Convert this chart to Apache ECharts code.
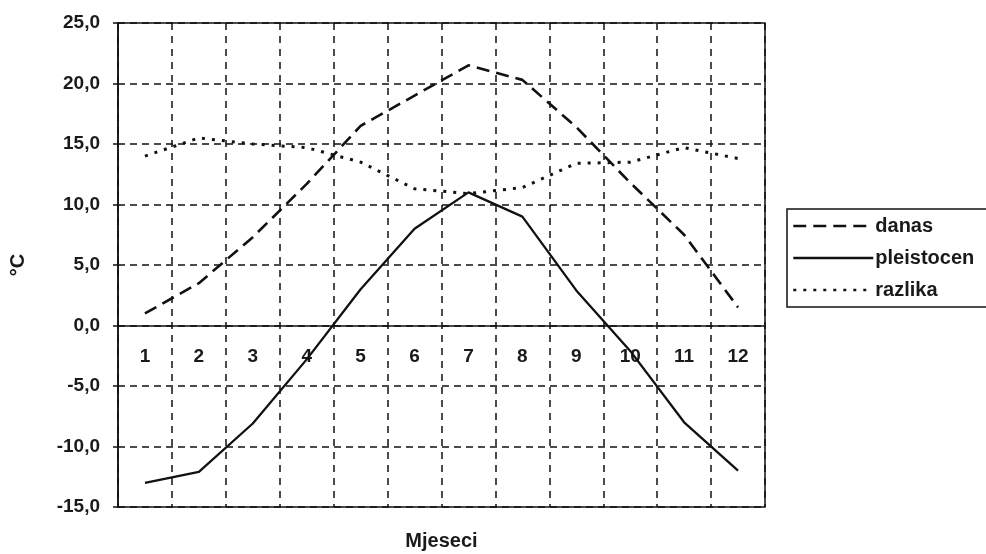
<!DOCTYPE html>
<html>
<head>
<meta charset="utf-8">
<script src="https://cdn.jsdelivr.net/npm/echarts@6/dist/echarts.min.js"></script>
<style>html,body{margin:0;padding:0;background:#fff}#c{width:986px;height:554px}</style>
</head>
<body>
<div id="c"></div>
<script>
var months = ['1','2','3','4','5','6','7','8','9','10','11','12'];
var danas = [1.0, 3.5, 7.3, 11.7, 16.5, 19.0, 21.5, 20.3, 16.4, 11.8, 7.5, 1.5];
var pleistocen = [-13.0, -12.1, -8.1, -2.8, 3.0, 8.0, 11.0, 9.0, 2.9, -2.1, -8.0, -12.0];
var razlika = [14.0, 15.5, 15.0, 14.7, 13.5, 11.3, 10.9, 11.4, 13.4, 13.5, 14.7, 13.8];
var seriesNames = ['danas', 'pleistocen', 'razlika'];
var yTitle = '°C';
var xTitle = 'Mjeseci';

var FONT = '"Liberation Sans", Arial, sans-serif';
var TOP = 23, BOTTOM = 47, H = 554;
var Y_MIN = -15, Y_MAX = 25;
// place the category axis on the zero line
var plotH = H - TOP - BOTTOM;
var zeroOffset = -plotH * (0 - Y_MIN) / (Y_MAX - Y_MIN);

var chart = echarts.init(document.getElementById('c'));
chart.setOption({
  backgroundColor: '#fff',
  animation: false,
  textStyle: {fontFamily: FONT, color: '#111'},
  grid: {left: 118, right: 221, top: TOP, bottom: BOTTOM, show: true, borderColor: '#111', borderWidth: 1.5,
         backgroundColor: 'transparent', containLabel: false, outerBoundsMode: 'none'},
  legend: {
    orient: 'vertical', left: 787, top: 209,
    padding: [7, 40, 7, 5],
    borderColor: '#111', borderWidth: 1.5, backgroundColor: '#fff',
    itemWidth: 80, itemHeight: 12, itemGap: 12,
    itemStyle: {opacity: 0},
    lineStyle: {width: 2.6},
    textStyle: {fontFamily: FONT, fontSize: 20, fontWeight: 'bold', color: '#1a1a1a', lineHeight: 20, padding: [0,0,0,-3]},
    data: seriesNames
  },
  xAxis: {
    type: 'category', data: months, boundaryGap: true,
    offset: zeroOffset,
    name: xTitle, nameLocation: 'middle', nameGap: 206,
    nameTextStyle: {fontSize: 20, fontWeight: 'bold', color: '#1a1a1a', fontFamily: FONT},
    axisLine: {onZero: false, lineStyle: {color: '#111', width: 1.5}},
    axisTick: {show: false},
    axisLabel: {fontSize: 19, fontWeight: 'bold', color: '#1a1a1a', margin: 22, fontFamily: FONT},
    splitLine: {show: true, interval: 0, lineStyle: {color: '#111', width: 1.5, type: [7, 6]}}
  },
  yAxis: {
    type: 'value', min: Y_MIN, max: Y_MAX, interval: 5,
    name: yTitle, nameLocation: 'middle', nameGap: 90, nameRotate: 90,
    nameTextStyle: {fontSize: 20, fontWeight: 'bold', color: '#1a1a1a', fontFamily: FONT},
    axisLine: {show: true, lineStyle: {color: '#111', width: 1.5}},
    axisTick: {show: true, length: 5, lineStyle: {color: '#111', width: 1.5}},
    axisLabel: {fontSize: 19, fontWeight: 'bold', color: '#1a1a1a', margin: 18, fontFamily: FONT,
      formatter: function (v) { return v.toFixed(1).replace('.', ','); }},
    splitLine: {show: true, lineStyle: {color: '#111', width: 1.5, type: [7, 5]}}
  },
  series: [
    {name: seriesNames[0], type: 'line', data: danas, symbol: 'none', z: 3,
     lineStyle: {color: '#111', width: 2.6, type: [13, 7]}, itemStyle: {color: '#111'}},
    {name: seriesNames[1], type: 'line', data: pleistocen, symbol: 'none', z: 3,
     lineStyle: {color: '#111', width: 2.3, type: 'solid'}, itemStyle: {color: '#111'}},
    {name: seriesNames[2], type: 'line', data: razlika, symbol: 'none', z: 3,
     lineStyle: {color: '#111', width: 3, type: [3, 7]}, itemStyle: {color: '#111'}}
  ]
});
</script>
</body>
</html>
